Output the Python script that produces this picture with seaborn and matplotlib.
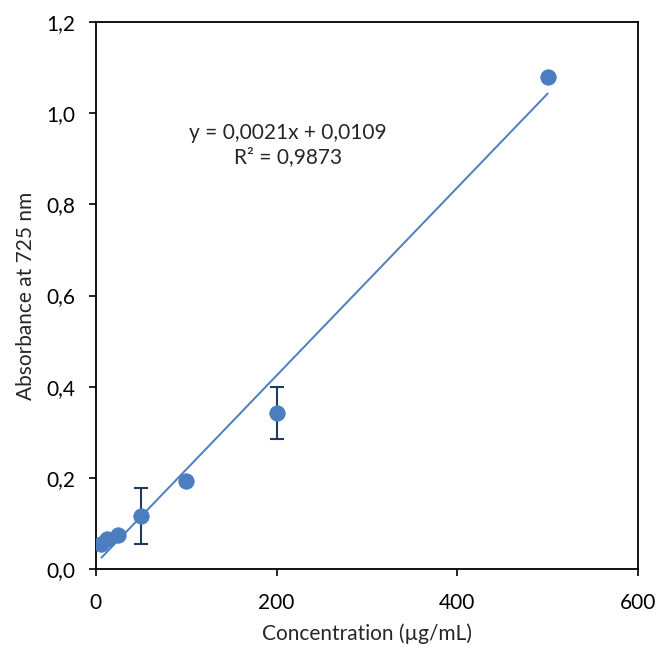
import numpy as np
import pandas as pd
import matplotlib
matplotlib.use("Agg")
import matplotlib.pyplot as plt
import seaborn as sns

# Calibration data
concentration = [6.25, 12.5, 25, 50, 100, 200, 500]
absorbance = [0.055, 0.066, 0.075, 0.116, 0.193, 0.343, 1.079]
abs_err = [0.0, 0.0, 0.0, 0.062, 0.0, 0.057, 0.0]

x_ticks = [0, 200, 400, 600]
y_ticks = [0.0, 0.2, 0.4, 0.6, 0.8, 1.0, 1.2]
equation = "y = 0,0021x + 0,0109"
r_squared = "R² = 0,9873"

df = pd.DataFrame({"Concentration": concentration, "Absorbance": absorbance})

sns.set_style("white")
plt.rcParams['font.family'] = ['Lato', 'DejaVu Sans']

fig = plt.figure(figsize=(6.56, 6.5), dpi=100)
ax = fig.add_axes([0.146, 0.1246, 0.8266, 0.8414])

blue = "#4A7EC0"
navy = "#203A60"

# trendline (least squares, drawn only over the data range)
sns.regplot(data=df, x="Concentration", y="Absorbance", scatter=False, ci=None,
            truncate=True, color=blue, line_kws={"linewidth": 1.4}, ax=ax)

ax.errorbar(concentration, absorbance, yerr=abs_err, fmt="none", ecolor=navy,
            elinewidth=1.5, capsize=5, capthick=1.5, zorder=3)

sns.scatterplot(data=df, x="Concentration", y="Absorbance", s=125, color=blue,
                edgecolor=blue, linewidth=0.5, zorder=4, ax=ax)

ax.set_xlim(0, 600)
ax.set_ylim(0, 1.2)
ax.set_xticks(x_ticks)
ax.set_yticks(y_ticks)
ax.set_xticklabels([str(v) for v in x_ticks])
ax.set_yticklabels([f"{v:.1f}".replace(".", ",") for v in y_ticks])
ax.tick_params(axis="both", direction="out", length=5, width=1.2, labelsize=15,
               colors="black", bottom=True, left=True)
ax.tick_params(axis="x", pad=12)
ax.tick_params(axis="y", pad=10)

for s in ax.spines.values():
    s.set_color("black")
    s.set_linewidth(1.3)

ax.set_xlabel("Concentration (µg/mL)", fontsize=15, labelpad=8)
ax.set_ylabel("Absorbance at 725 nm", fontsize=15, labelpad=7)

ax.text(0.354, 0.775, equation + "\n" + r_squared, transform=ax.transAxes,
        ha="center", va="center", fontsize=15, linespacing=1.25)

fig.savefig("out.png", dpi=100)
